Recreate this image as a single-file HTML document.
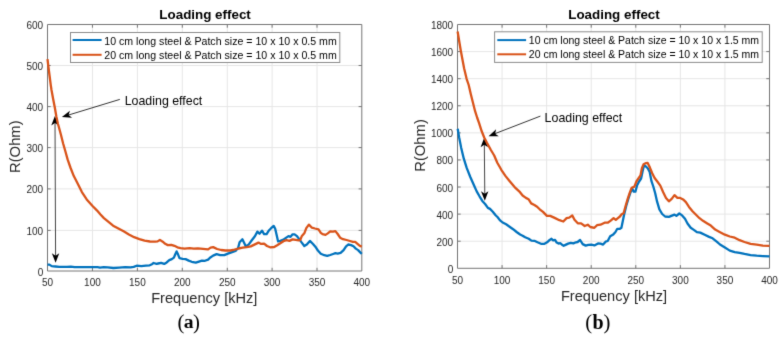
<!DOCTYPE html><html><head><meta charset="utf-8"><title>Loading effect</title><style>html,body{margin:0;padding:0;background:#fff;overflow:hidden;}svg{display:block;will-change:transform;}text{font-family:"Liberation Sans",sans-serif;}.s{font-family:"Liberation Serif",serif;}</style></head><body>
<svg width="784" height="343" viewBox="0 0 784 343">
<defs><filter id="bl" x="0" y="0" width="784" height="343" filterUnits="userSpaceOnUse" color-interpolation-filters="sRGB"><feConvolveMatrix order="3" kernelMatrix="0.01134 0.08382 0.01134 0.08382 0.61935 0.08382 0.01134 0.08382 0.01134" divisor="1" edgeMode="duplicate"/></filter></defs>
<g filter="url(#bl)">
<rect width="784" height="343" fill="#fff"/>
<path d="M92.45 24.5V271.0M137.40 24.5V271.0M182.30 24.5V271.0M227.30 24.5V271.0M272.10 24.5V271.0M317.00 24.5V271.0M47.5 65.50H361.8M47.5 106.60H361.8M47.5 147.60H361.8M47.5 188.90H361.8M47.5 230.40H361.8" stroke="#e6e6e6" stroke-width="1" fill="none"/>
<path d="M502.07 24.5V268.3M546.64 24.5V268.3M591.21 24.5V268.3M635.79 24.5V268.3M680.36 24.5V268.3M724.93 24.5V268.3M457.5 241.21H769.5M457.5 214.12H769.5M457.5 187.03H769.5M457.5 159.94H769.5M457.5 132.86H769.5M457.5 105.77H769.5M457.5 78.68H769.5M457.5 51.59H769.5" stroke="#e6e6e6" stroke-width="1" fill="none"/>
<line x1="119.8" y1="99.4" x2="65" y2="116.1" stroke="#000" stroke-width="0.8"/>
<path d="M61.90,117.10L69.90,110.78L68.59,115.05L72.07,117.86Z" fill="#000"/>
<line x1="55.0" y1="120" x2="55.6" y2="258" stroke="#444" stroke-width="1.0"/>
<path d="M54.90,116.00L58.65,125.48L54.93,123.00L51.25,125.52Z" fill="#000"/>
<path d="M55.60,262.70L51.85,253.22L55.57,255.70L59.25,253.18Z" fill="#000"/>
<line x1="540.4" y1="116.1" x2="492" y2="134.8" stroke="#000" stroke-width="0.8"/>
<path d="M488.60,136.20L496.12,129.31L495.13,133.67L498.80,136.21Z" fill="#000"/>
<line x1="484.3" y1="142" x2="484.8" y2="196" stroke="#444" stroke-width="1.0"/>
<path d="M484.20,137.80L487.99,147.26L484.27,144.80L480.59,147.33Z" fill="#000"/>
<path d="M484.80,200.80L481.01,191.34L484.73,193.80L488.41,191.27Z" fill="#000"/>
<path d="M92.45 271.0v-3.2M92.45 24.5v3.2M137.40 271.0v-3.2M137.40 24.5v3.2M182.30 271.0v-3.2M182.30 24.5v3.2M227.30 271.0v-3.2M227.30 24.5v3.2M272.10 271.0v-3.2M272.10 24.5v3.2M317.00 271.0v-3.2M317.00 24.5v3.2M47.5 65.50h3.2M361.8 65.50h-3.2M47.5 106.60h3.2M361.8 106.60h-3.2M47.5 147.60h3.2M361.8 147.60h-3.2M47.5 188.90h3.2M361.8 188.90h-3.2M47.5 230.40h3.2M361.8 230.40h-3.2M47.5 24.5H361.8V271.0H47.5Z" stroke="#767676" stroke-opacity="1.0" stroke-width="1" fill="none"/>
<path d="M502.07 268.3v-3.2M502.07 24.5v3.2M546.64 268.3v-3.2M546.64 24.5v3.2M591.21 268.3v-3.2M591.21 24.5v3.2M635.79 268.3v-3.2M635.79 24.5v3.2M680.36 268.3v-3.2M680.36 24.5v3.2M724.93 268.3v-3.2M724.93 24.5v3.2M457.5 241.21h3.2M769.5 241.21h-3.2M457.5 214.12h3.2M769.5 214.12h-3.2M457.5 187.03h3.2M769.5 187.03h-3.2M457.5 159.94h3.2M769.5 159.94h-3.2M457.5 132.86h3.2M769.5 132.86h-3.2M457.5 105.77h3.2M769.5 105.77h-3.2M457.5 78.68h3.2M769.5 78.68h-3.2M457.5 51.59h3.2M769.5 51.59h-3.2M457.5 24.5H769.5V268.3H457.5Z" stroke="#767676" stroke-opacity="1.0" stroke-width="1" fill="none"/>
<polyline points="47.5,264.6 49.4,264.6 51.7,266.1 55.5,266.5 59.3,266.9 67.0,266.9 70.8,266.6 74.6,267.2 82.3,267.2 89.9,267.2 97.6,267.2 100.0,267.6 103.8,267.1 107.7,267.4 113.4,268.0 119.1,267.6 125.2,267.2 130.6,267.4 133.7,266.9 136.7,265.7 141.3,266.1 145.9,265.7 149.7,265.3 152.0,264.2 153.6,263.0 156.6,263.8 158.1,263.5 161.1,262.9 164.2,263.9 166.7,262.4 169.3,260.1 171.8,259.1 173.9,257.6 175.4,254.0 176.6,251.4 178.0,254.3 179.5,258.1 182.6,258.8 185.6,259.1 188.7,260.6 191.7,261.8 195.8,262.7 198.9,261.6 201.9,260.6 205.0,260.8 208.1,259.6 210.0,257.7 213.1,255.6 216.6,254.1 220.2,255.1 224.3,255.1 227.9,253.6 231.4,252.3 235.5,251.0 238.1,248.0 239.6,242.3 242.4,239.3 244.2,242.9 245.9,246.4 248.8,244.4 251.8,240.3 254.9,236.2 257.4,231.6 259.5,233.7 262.0,230.6 264.1,234.2 266.6,234.2 269.1,230.2 271.1,228.2 273.7,225.9 275.2,228.7 276.7,235.3 278.1,241.4 280.3,240.9 282.9,239.9 285.9,237.9 288.5,236.1 290.5,236.8 292.6,234.3 294.6,234.3 296.6,235.8 298.7,238.4 301.2,241.9 304.3,246.0 306.8,244.5 309.9,240.9 313.0,244.0 316.0,247.6 317.9,250.5 320.8,253.8 324.3,255.2 327.2,255.9 330.2,255.0 333.1,254.0 335.4,253.2 337.7,253.6 340.6,252.9 343.6,250.1 345.9,246.6 348.2,244.5 351.1,245.1 353.5,246.2 355.8,248.6 358.1,250.1 360.5,252.6 361.8,253.8" fill="none" stroke="#0072bd" stroke-width="2.3" stroke-linejoin="round"/>
<polyline points="47.5,59.1 48.4,66.7 49.6,76.0 50.8,85.3 51.5,90.0 53.2,99.3 54.8,107.5 56.4,116.8 57.9,123.8 58.7,126.5 60.8,134.3 63.2,143.7 65.5,151.8 67.6,159.4 70.6,168.0 73.8,176.1 77.9,184.1 81.9,192.1 86.7,199.4 92.3,205.8 97.1,210.6 100.5,214.5 103.9,218.1 107.9,221.4 113.1,225.7 118.4,228.6 123.6,231.3 128.9,234.5 134.1,237.2 139.4,239.1 144.6,240.7 149.9,241.5 155.1,241.6 157.6,241.4 159.9,239.9 162.7,241.7 165.2,243.8 167.8,245.1 171.3,244.8 174.4,245.8 177.4,247.3 180.5,248.2 184.6,248.6 189.7,248.2 193.8,248.6 197.9,248.4 203.0,248.9 208.1,249.4 210.6,247.6 213.2,247.1 217.1,249.0 221.2,250.0 225.3,250.5 230.4,250.5 234.5,249.7 238.6,248.5 242.7,247.7 246.7,247.2 250.8,246.4 254.9,244.4 258.5,242.6 261.0,243.9 264.1,243.6 267.0,246.0 270.1,247.3 274.2,247.0 277.2,245.3 280.3,243.3 283.4,241.2 286.4,240.2 289.5,240.9 292.6,239.4 295.6,239.9 298.7,240.4 300.2,240.2 301.7,236.3 304.3,233.3 306.3,228.2 308.9,224.6 311.9,227.7 315.0,228.5 318.5,229.3 320.8,232.8 322.6,234.2 325.5,234.9 327.8,233.4 330.2,231.4 333.1,231.7 335.4,231.1 337.7,234.0 340.1,237.7 343.0,239.2 346.5,240.0 350.0,241.0 352.9,241.9 355.2,241.9 357.5,243.9 359.9,245.9 361.8,246.6" fill="none" stroke="#d95319" stroke-width="2.3" stroke-linejoin="round"/>
<polyline points="457.7,128.7 459.1,137.2 461.1,147.4 463.8,158.7 466.7,167.9 470.3,177.0 474.4,186.2 476.7,191.4 479.5,196.3 482.3,200.9 485.1,204.0 487.9,207.9 490.0,208.9 492.8,211.7 495.6,215.2 497.7,217.3 499.8,220.1 502.6,222.5 506.1,224.3 509.6,226.7 513.1,229.2 516.6,232.0 520.1,234.5 522.6,235.7 525.2,237.3 528.7,238.8 531.4,240.6 534.4,240.8 537.5,242.3 541.0,243.8 544.5,243.8 547.1,242.3 549.7,239.9 551.5,238.8 553.2,240.3 555.0,239.9 556.7,242.6 558.5,243.6 560.2,243.2 562.0,244.7 563.7,245.8 565.5,244.9 568.1,243.6 570.7,242.9 573.4,243.4 576.0,242.3 577.6,242.0 580.1,240.0 582.7,244.1 585.7,245.6 588.3,244.8 591.3,244.6 594.4,245.4 598.0,243.4 600.5,243.6 603.1,244.6 605.6,241.7 607.7,241.0 610.2,236.2 613.3,234.4 615.3,232.3 617.3,228.8 619.9,228.8 621.4,227.8 622.6,222.0 624.2,214.2 626.2,206.0 628.3,198.9 630.3,192.8 632.3,188.7 633.8,191.7 635.4,191.7 637.0,185.6 639.1,181.5 641.1,178.5 642.6,171.3 644.0,165.2 645.6,166.2 647.7,168.3 649.7,172.0 651.4,180.9 653.3,186.5 655.2,193.2 657.1,201.7 659.4,209.3 662.2,214.0 665.1,216.5 668.9,216.9 672.6,215.4 674.5,214.6 676.4,215.9 679.3,213.5 682.1,215.4 685.0,218.8 687.5,223.5 690.7,227.8 694.2,230.1 696.9,232.2 700.3,232.6 704.7,234.8 709.1,236.9 712.6,238.3 717.0,241.8 720.0,244.5 724.9,247.5 729.8,250.6 734.7,252.1 739.6,252.8 744.5,253.9 750.6,255.1 756.7,255.7 762.8,256.1 769.5,256.4" fill="none" stroke="#0072bd" stroke-width="2.3" stroke-linejoin="round"/>
<polyline points="457.6,31.5 460.8,50.8 464.1,68.3 466.6,78.8 468.7,85.0 470.7,93.7 472.9,102.5 475.1,111.2 477.1,117.5 479.1,123.2 481.7,131.3 484.2,137.5 486.8,142.6 490.9,150.0 494.2,155.5 497.3,162.7 501.3,169.8 505.4,175.9 509.5,181.0 514.6,187.1 520.0,192.2 522.6,195.5 525.9,197.9 528.5,199.2 531.2,203.4 534.4,205.0 537.1,206.7 539.7,209.3 543.0,211.9 546.9,215.9 550.2,215.9 554.1,217.6 559.4,220.2 563.3,221.5 566.6,218.1 569.2,217.6 572.3,215.5 574.5,219.8 577.8,223.3 581.1,223.4 584.7,226.0 587.8,224.7 590.3,227.0 594.4,227.8 597.0,225.2 600.5,224.7 604.6,222.7 607.7,222.7 610.7,220.6 613.6,218.1 615.8,219.9 617.9,218.1 619.9,216.5 621.6,214.2 623.6,213.2 625.6,206.0 627.7,198.9 629.7,192.8 631.7,187.7 634.4,186.6 636.4,181.5 639.1,177.4 640.5,175.4 641.9,168.3 643.6,164.2 645.6,163.2 647.7,163.0 649.9,167.6 652.2,173.3 654.6,178.0 657.5,181.8 660.3,185.6 663.2,192.2 666.0,197.9 668.9,201.3 671.7,198.9 674.5,195.1 677.4,197.9 680.2,197.9 683.1,199.4 685.9,202.1 689.0,206.9 692.5,211.2 696.0,214.7 699.5,218.2 703.0,220.8 707.3,223.5 710.8,225.6 715.2,229.6 719.6,231.9 724.9,234.7 729.8,236.5 734.7,237.7 739.6,240.2 744.5,242.0 750.6,243.9 756.7,244.7 762.8,245.7 769.5,245.9" fill="none" stroke="#d95319" stroke-width="2.3" stroke-linejoin="round"/>
<rect x="70.5" y="32.5" width="269.3" height="30.0" fill="#fff" stroke="#8c8c8c" stroke-width="1"/><path d="M72.6 40.0H101.6" stroke="#0072bd" stroke-width="2.0"/><path d="M72.6 54.8H101.6" stroke="#d95319" stroke-width="2.0"/><text transform="translate(104.3,44.9) scale(1.062,1)" font-size="10.0" fill="#000">10 cm long steel &amp; Patch size = 10 x 10 x 0.5 mm</text><text transform="translate(104.3,58.5) scale(1.062,1)" font-size="10.0" fill="#000">20 cm long steel &amp; Patch size = 10 x 10 x 0.5 mm</text>
<rect x="494.6" y="31.8" width="267.6" height="30.6" fill="#fff" stroke="#8c8c8c" stroke-width="1"/><path d="M497.3 40.1H526.1" stroke="#0072bd" stroke-width="2.0"/><path d="M497.3 54.3H526.1" stroke="#d95319" stroke-width="2.0"/><text transform="translate(528.8,44.2) scale(1.051,1)" font-size="10.0" fill="#000">10 cm long steel &amp; Patch size = 10 x 10 x 1.5 mm</text><text transform="translate(528.8,58.0) scale(1.051,1)" font-size="10.0" fill="#000">20 cm long steel &amp; Patch size = 10 x 10 x 1.5 mm</text>
<g font-size="10" fill="#262626"><text x="47.50" y="285.6" text-anchor="middle">50</text><text x="92.45" y="285.6" text-anchor="middle">100</text><text x="137.40" y="285.6" text-anchor="middle">150</text><text x="182.30" y="285.6" text-anchor="middle">200</text><text x="227.30" y="285.6" text-anchor="middle">250</text><text x="272.10" y="285.6" text-anchor="middle">300</text><text x="317.00" y="285.6" text-anchor="middle">350</text><text x="361.80" y="285.6" text-anchor="middle">400</text><text x="43.2" y="275.50" text-anchor="end">0</text><text x="43.2" y="234.90" text-anchor="end">100</text><text x="43.2" y="193.40" text-anchor="end">200</text><text x="43.2" y="152.10" text-anchor="end">300</text><text x="43.2" y="111.10" text-anchor="end">400</text><text x="43.2" y="70.00" text-anchor="end">500</text><text x="43.2" y="29.00" text-anchor="end">600</text></g>
<g font-size="10" fill="#262626"><text x="457.50" y="283.6" text-anchor="middle">50</text><text x="502.07" y="283.6" text-anchor="middle">100</text><text x="546.64" y="283.6" text-anchor="middle">150</text><text x="591.21" y="283.6" text-anchor="middle">200</text><text x="635.79" y="283.6" text-anchor="middle">250</text><text x="680.36" y="283.6" text-anchor="middle">300</text><text x="724.93" y="283.6" text-anchor="middle">350</text><text x="769.50" y="283.6" text-anchor="middle">400</text><text x="453.2" y="272.80" text-anchor="end">0</text><text x="453.2" y="245.71" text-anchor="end">200</text><text x="453.2" y="218.62" text-anchor="end">400</text><text x="453.2" y="191.53" text-anchor="end">600</text><text x="453.2" y="164.44" text-anchor="end">800</text><text x="453.2" y="137.36" text-anchor="end">1000</text><text x="453.2" y="110.27" text-anchor="end">1200</text><text x="453.2" y="83.18" text-anchor="end">1400</text><text x="453.2" y="56.09" text-anchor="end">1600</text><text x="453.2" y="29.00" text-anchor="end">1800</text></g>
<text x="205.1" y="19.2" font-size="13.4" font-weight="bold" text-anchor="middle" fill="#000">Loading effect</text>
<text x="614" y="18.8" font-size="13.4" font-weight="bold" text-anchor="middle" fill="#000">Loading effect</text>
<text x="204.3" y="303.3" font-size="14.6" text-anchor="middle" fill="#262626">Frequency [kHz]</text>
<text x="614" y="301" font-size="14.6" text-anchor="middle" fill="#262626">Frequency [kHz]</text>
<text transform="translate(20.3,146.7) rotate(-90)" font-size="14.8" text-anchor="middle" fill="#262626">R(Ohm)</text>
<text transform="translate(424.7,145.5) rotate(-90)" font-size="14.8" text-anchor="middle" fill="#262626">R(Ohm)</text>
<text x="124.7" y="104.6" font-size="12.4" fill="#000">Loading effect</text>
<text x="544.6" y="121.7" font-size="12.4" fill="#000">Loading effect</text>
<g class="s" fill="#000" font-family="Liberation Serif"><text x="177.6" y="329" font-size="20.8" style="font-family:'Liberation Serif',serif">(</text><text x="193.07" y="329" font-size="20.8" style="font-family:'Liberation Serif',serif">)</text><text transform="translate(183.8,328.4) scale(1.08,1)" font-size="18.2" font-weight="bold" style="font-family:'Liberation Serif',serif">a</text><text x="585.27" y="329" font-size="20.8" style="font-family:'Liberation Serif',serif">(</text><text x="603.47" y="329" font-size="20.8" style="font-family:'Liberation Serif',serif">)</text><text x="592.5" y="328.5" font-size="20" font-weight="bold" style="font-family:'Liberation Serif',serif">b</text></g>
</g>
</svg></body></html>
